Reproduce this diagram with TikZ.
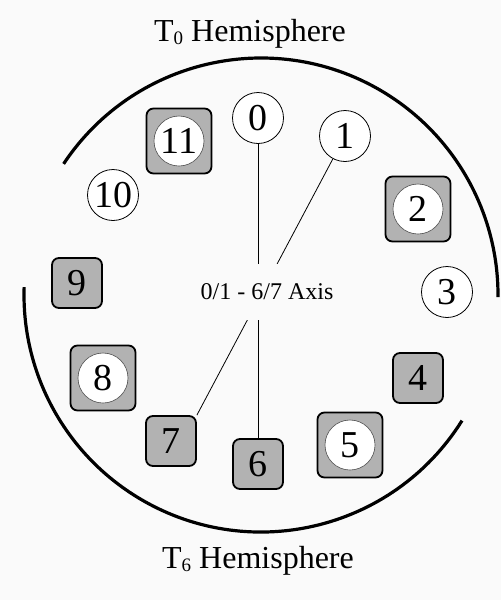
\documentclass[tikz,border=0pt]{standalone}
\usepackage{fontspec}
\setmainfont{Liberation Serif}
\definecolor{bgc}{RGB}{250,250,250}
\definecolor{sqgray}{RGB}{178,178,178}
\begin{document}
\begin{tikzpicture}[x=1pt,y=-1pt,
  digit/.style={font=\fontsize{38}{40}\selectfont},
  plainc/.style={circle,draw=black,line width=0.8pt,fill=white,minimum size=51pt,inner sep=0pt,digit},
  innerc/.style={circle,draw=black!70,line width=0.6pt,fill=white,minimum size=50pt,inner sep=0pt,digit},
  bigsq/.style={rectangle,rounded corners=7pt,draw=black,line width=1.8pt,fill=sqgray,minimum size=65pt,inner sep=0pt},
  smallsq/.style={rectangle,rounded corners=7pt,draw=black,line width=1.8pt,fill=sqgray,minimum size=50pt,inner sep=0pt,digit},
  hemi/.style={font=\fontsize{32}{36}\selectfont},
  axislbl/.style={font=\fontsize{24}{28}\selectfont,fill=bgc,inner xsep=3pt,minimum height=56pt},
  conn/.style={line width=0.8pt},
  rim/.style={line width=3.2pt}]
\fill[bgc] (0,0) rectangle (501,600);
\useasboundingbox (0,0) rectangle (501,600);
% hemisphere arcs
\coordinate (c) at (261,295);
\draw[rim] (c) ++(213.6:237) arc[start angle=213.6, end angle=360.5, radius=237];
\draw[rim] (c) ++(32:237) arc[start angle=32, end angle=181.9, radius=237];
% titles
\node[hemi] (top) at (250,34) {T\raisebox{-0.08em}{\fontsize{19}{20}\selectfont 0} Hemisphere};
\node[hemi] (bot) at (258,561) {T\raisebox{-0.08em}{\fontsize{19}{20}\selectfont 6} Hemisphere};
% nodes
\node[plainc] (n0) at (258,118) {0};
\node[plainc] (n1) at (345,136) {1};
\node[bigsq] (n11) at (179,141) {};
\node[innerc] (c11) at (n11) {11};
\node[plainc] (n10) at (113,195) {10};
\node[bigsq] (n2) at (418,209) {};
\node[innerc] (c2) at (n2) {2};
\node[plainc] (n3) at (447,292) {3};
\node[smallsq] (n9) at (77,283) {9};
\node[bigsq] (n8) at (103,378) {};
\node[innerc] (c8) at (n8) {8};
\node[smallsq] (n4) at (418,378) {4};
\node[smallsq] (n7) at (171,441) {7};
\node[smallsq] (n6) at (258,464) {6};
\node[bigsq] (n5) at (350,445) {};
\node[innerc] (c5) at (n5) {5};
% axis lines
\draw[conn] (n0) -- (n6);
\draw[conn] (n1) -- (n7.north east);
\node[axislbl] (ax) at (267,292) {0/1 - 6/7 Axis};
\end{tikzpicture}
\end{document}
